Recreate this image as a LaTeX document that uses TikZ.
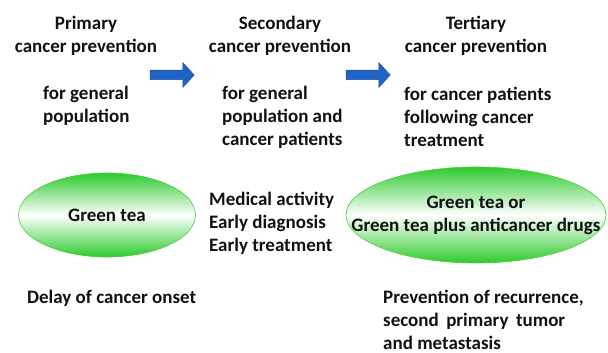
\documentclass[tikz,border=0pt]{standalone}
\usepackage{fontspec}
\setmainfont{Carlito}
\usepackage{xcolor}
\usetikzlibrary{positioning,shapes.geometric,shapes.arrows}
\definecolor{cLeaf}{HTML}{2DCB2D}
\definecolor{cEdge}{HTML}{4CCB3C}
\definecolor{cBlue}{HTML}{1F62C8}
\definecolor{cBlueDk}{HTML}{1F4E96}
\definecolor{cInk}{HTML}{111111}
\tikzset{
  txt/.style    ={font=\bfseries\fontsize{19}{23}\selectfont,text=cInk,inner sep=0pt},
  head/.style   ={txt,align=center},
  sub/.style    ={txt,align=left,anchor=west},
  tea/.style    ={ellipse,draw=cEdge,line width=0.6pt,top color=cLeaf,bottom color=cLeaf,
                  middle color=white,inner sep=0pt},
  step arrow/.style={single arrow,draw=cBlueDk,fill=cBlue,line width=0.5pt,
                  minimum height=44pt,single arrow head extend=7.5pt,
                  single arrow tip angle=95,inner sep=4.5pt},
}
\begin{document}
\begin{tikzpicture}[x=1pt,y=-1pt]
\useasboundingbox (0,0) rectangle (608,353);
% stage headings
\node[head] (prim) at (86,36) {Primary\\cancer prevention};
\node[head] (sec)  at (280,36) {Secondary\\cancer prevention};
\node[head] (ter)  at (476,36) {Tertiary\\cancer prevention};
% block arrows between stages
\node[step arrow] (a1) at (170,75) {};
\node[step arrow] (a2) at (366,75) {};
% who each stage is for
\node[sub] (primfor) at (43,106) {for general\\population};
\node[sub] (secfor)  at (222,117) {for general\\population and\\cancer patients};
\node[sub] (terfor)  at (404,117) {for cancer patients\\following cancer\\treatment};
% interventions
\node[tea,minimum width=177pt,minimum height=84pt,
      label={[txt]center:Green tea}] (tea1) at (107,215) {};
\node[sub] (med) at (209,223) {Medical activity\\Early diagnosis\\Early treatment};
\node[tea,minimum width=260pt,minimum height=96pt,
      label={[txt,align=center]center:Green tea or\\Green tea plus anticancer drugs}] (tea2) at (476,215) {};
% outcomes
\node[sub] (delay) at (27,298) {Delay of cancer onset};
\node[sub] (recur) at (383,319.5) {Prevention of recurrence,\\second\, primary\, tumor\\and metastasis};
\end{tikzpicture}
\end{document}
